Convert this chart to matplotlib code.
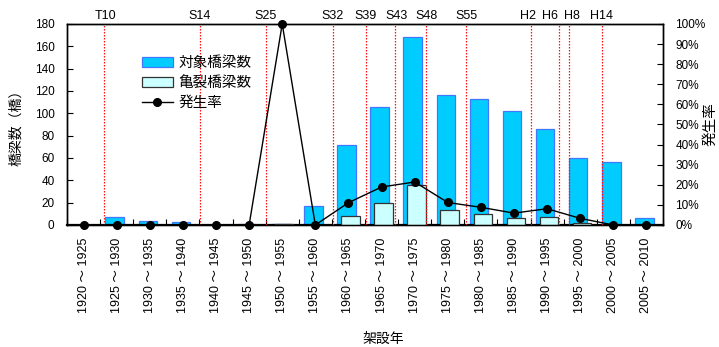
import matplotlib
matplotlib.use('Agg')
import matplotlib.pyplot as plt
import numpy as np
from matplotlib.ticker import PercentFormatter, MultipleLocator
from matplotlib.transforms import blended_transform_factory

plt.rcParams['font.family'] = ['Liberation Sans', 'Noto Sans CJK JP']

# 架設年代（5年刻み）
periods = ['1920 ～ 1925', '1925 ～ 1930', '1930 ～ 1935', '1935 ～ 1940', '1940 ～ 1945',
           '1945 ～ 1950', '1950 ～ 1955', '1955 ～ 1960', '1960 ～ 1965', '1965 ～ 1970',
           '1970 ～ 1975', '1975 ～ 1980', '1980 ～ 1985', '1985 ～ 1990', '1990 ～ 1995',
           '1995 ～ 2000', '2000 ～ 2005', '2005 ～ 2010']
target_bridges = [0, 7, 4, 3, 0, 1, 1, 17, 72, 106, 168, 116, 113, 102, 86, 60, 56, 6]
cracked_bridges = [0, 0, 0, 0, 0, 0, 1, 0, 8, 20, 36, 13, 10, 6, 7, 2, 0, 0]
crack_rate = [0, 0, 0, 0, 0, 0, 100, 0, 11.1, 18.9, 21.4, 11.2, 8.8, 5.9, 8.1, 3.3, 0, 0]

# 示方書改定年（元号）：線の位置と文字の位置（年代区分の単位）
era_labels = ['T10', 'S14', 'S25', 'S32', 'S39', 'S43', 'S48', 'S55', 'H2', 'H6', 'H8', 'H14']
era_line_pos = [0.61, 3.52, 5.51, 7.52, 8.54, 9.42, 10.33, 11.54, 13.51, 14.36, 14.66, 15.66]
era_text_pos = [0.65, 3.50, 5.51, 7.52, 8.53, 9.44, 10.37, 11.55, 13.41, 14.10, 14.74, 15.63]

x = np.arange(len(periods))

fig = plt.figure(figsize=(7.19, 3.47), dpi=100)
ax = fig.add_axes([0.0932, 0.3516, 0.8289, 0.5793])
ax2 = ax.twinx()

w = 0.56
ax.bar(x - 0.06, target_bridges, w, color='#00CCFF', edgecolor='#4477FF',
       linewidth=0.9, label='対象橋梁数', zorder=2)
ax.bar(x + 0.06, cracked_bridges, w, color='#CCFFFF', edgecolor='#333333',
       linewidth=0.9, label='亀裂橋梁数', zorder=3)

trans = blended_transform_factory(ax.transData, ax.transAxes)
for pos in era_line_pos:
    ax.axvline(pos, color='#FF1010', linestyle=(0, (1.2, 1.2)), linewidth=0.9, zorder=4)
for lab, pos in zip(era_labels, era_text_pos):
    ax.text(pos, 1.04, lab, transform=trans, ha='center', va='center', fontsize=9)

ax2.plot(x, np.array(crack_rate) / 100, color='black', marker='o', markersize=5.5,
         linewidth=1.0, label='発生率', clip_on=False, zorder=5)

ax.set_xlim(-0.5, len(periods) - 0.5)
ax.set_ylim(0, 180)
ax.yaxis.set_major_locator(MultipleLocator(20))
ax2.set_ylim(0, 1)
ax2.yaxis.set_major_locator(MultipleLocator(0.1))
ax2.yaxis.set_major_formatter(PercentFormatter(1.0, decimals=0))

ax.set_xticks(x)
ax.set_xticklabels(periods, rotation=90, fontsize=9)
ax.set_xticks(np.arange(len(periods) + 1) - 0.5, minor=True)
ax.tick_params(axis='x', which='major', length=0, pad=9)
ax.tick_params(axis='x', which='minor', direction='in', length=4, width=0.8)
ax.tick_params(axis='y', direction='in', length=4, width=0.8, labelsize=8.5, pad=9)
ax2.tick_params(axis='y', direction='in', length=4, width=0.8, labelsize=8.5, pad=9)

for a in (ax, ax2):
    for s in a.spines.values():
        s.set_linewidth(1.0)
ax.spines['bottom'].set_linewidth(1.6)

ax.set_ylabel('橋梁数（橋）', fontsize=10, ha='center', va='center')
ax.yaxis.set_label_coords(-0.086, 0.5)
ax2.set_ylabel('発生率', fontsize=10.5, rotation=90, ha='center', va='center')
ax2.yaxis.set_label_coords(1.079, 0.5)
ax.set_xlabel('架設年', fontsize=10, ha='center', va='center')
ax.xaxis.set_label_coords(0.53, -0.565)

h1, l1 = ax.get_legend_handles_labels()
h2, l2 = ax2.get_legend_handles_labels()
ax2.legend(h1 + h2, l1 + l2, loc='upper left', bbox_to_anchor=(0.111, 0.885),
           frameon=False, fontsize=10.5, handlelength=2.1, labelspacing=0.42,
           handletextpad=0.4, borderaxespad=0.2)

fig.savefig('out.png', dpi=100)
